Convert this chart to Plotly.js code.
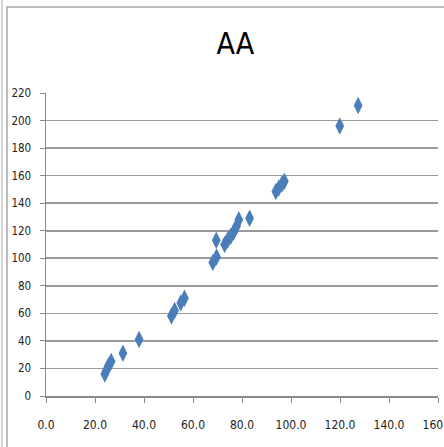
<!DOCTYPE html>
<html>
<head>
<meta charset="utf-8">
<script src="https://cdn.plot.ly/plotly-3.0.1.min.js"></script>
<style>
html,body{margin:0;padding:0;background:#fff;overflow:hidden;}
#chart{width:444px;height:447px;position:absolute;left:0;top:0;}
.frame1{position:absolute;left:1px;top:0;width:2px;height:447px;background:#d4d4d4;pointer-events:none;}
.frame2{position:absolute;left:6px;top:6px;width:600px;height:600px;border-left:2px solid #bcbcbc;border-top:2px solid #bcbcbc;pointer-events:none;}
</style>
</head>
<body>
<div id="chart"></div>
<div class="frame1"></div>
<div class="frame2"></div>
<script>
const chartTitle = "AA";
const xValues = [15.0, 24.0, 24.8, 25.5, 26.6, 31.4, 38.0, 51.2, 52.5, 55.0, 56.5, 68.1, 69.6, 69.5, 72.9, 74.1, 75.4, 76.6, 77.8, 78.7, 83.1, 93.8, 95.0, 96.3, 97.3, 119.9, 127.4];
const yValues = [-1.5, 16, 19, 22, 25, 31, 41, 58, 62, 67.5, 71, 97, 101, 113, 110, 113, 116, 119, 123.5, 128, 129, 148.5, 151, 154, 156, 196, 211];
const xTickVals = [0, 20, 40, 60, 80, 100, 120, 140, 160];
const xTickText = ["0.0", "20.0", "40.0", "60.0", "80.0", "100.0", "120.0", "140.0", "160.0"];
const yTickVals = [0, 20, 40, 60, 80, 100, 120, 140, 160, 180, 200, 220];

const font = "Liberation Sans Narrow, DejaVu Sans Condensed, Arial Narrow, sans-serif";

const trace = {
  type: "scatter",
  mode: "markers",
  x: xValues,
  y: yValues,
  cliponaxis: false,
  marker: {symbol: "diamond-tall", size: 12.5, color: "#4a7ebb", line: {width: 0}}
};

const layout = {
  width: 444, height: 447,
  margin: {l: 46.3, r: 5.7, t: 93.3, b: 51, pad: 0},
  paper_bgcolor: "#ffffff",
  plot_bgcolor: "#ffffff",
  showlegend: false,
  title: {text: chartTitle, x: 0.483, xref: "paper", y: 0.902, yref: "container", yanchor: "middle", xanchor: "center",
          font: {family: font, size: 30, color: "#000000"}},
  xaxis: {
    range: [0, 160], tickvals: xTickVals, ticktext: xTickText,
    showgrid: false, zeroline: false,
    showline: true, linecolor: "#8a8a8a", linewidth: 1.5,
    ticks: "outside", ticklen: 5, tickcolor: "#8a8a8a",
    ticklabelstandoff: 12, ticklabeloverflow: "allow",
    tickfont: {family: font, size: 12, color: "#222222"}
  },
  yaxis: {
    range: [0, 220], tickvals: yTickVals,
    showgrid: true, gridcolor: "#9a9a9a", gridwidth: 1.6, zeroline: false,
    showline: true, linecolor: "#8a8a8a", linewidth: 1.5,
    ticks: "outside", ticklen: 5, tickcolor: "#8a8a8a",
    ticklabelstandoff: 6,
    tickfont: {family: font, size: 11.5, color: "#222222"}
  }
};

Plotly.newPlot("chart", [trace], layout, {displayModeBar: false, staticPlot: true});
</script>
</body>
</html>
